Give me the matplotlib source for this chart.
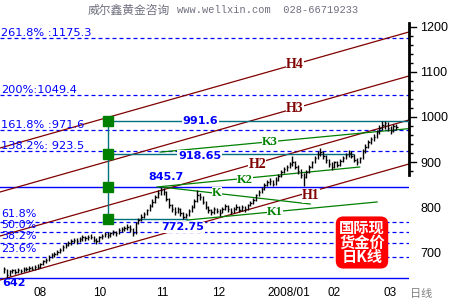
import matplotlib
matplotlib.use("Agg")
import matplotlib.pyplot as plt
from matplotlib.ticker import FixedLocator

# daily gold bars, Aug 2007 .. Mar 2008 (x = bar index)
closes = [662, 650, 658, 660, 657, 661, 659, 663, 662, 665, 664, 667, 668,
          673, 680, 683, 690, 694, 697, 700, 706, 712, 716, 721, 724,
          727, 725, 730, 733, 731, 735, 734, 728, 724, 733, 737, 740, 738, 742, 744, 743,
          749, 752, 754, 757, 752, 742, 764, 772, 779, 784,
          793, 803, 812, 822, 832, 838, 833, 818, 804, 797,
          790, 796, 786, 779, 783, 791, 801, 814, 826, 822,
          812, 800, 794, 789, 796, 792, 788, 797, 803, 795, 790, 797, 801, 794,
          800, 796, 804, 810, 816, 826, 834, 840, 849, 855, 858, 851,
          861, 870, 879, 884, 889, 896, 899, 890, 880, 871, 866,
          878, 889, 899, 909, 918, 922, 913, 904, 895, 890, 899, 894, 903,
          909, 915, 921, 914, 905, 899, 908, 924, 934, 944, 950,
          956, 966, 975, 981, 986, 975, 969, 980, 977]
highs = [668, 662, 661, 664, 663, 665, 664, 667, 667, 669, 669, 671, 673,
         677, 684, 687, 694, 698, 701, 705, 710, 716, 721, 725, 729,
         732, 731, 734, 738, 737, 739, 740, 736, 731, 736, 741, 744, 744, 746, 749, 748,
         753, 756, 759, 762, 760, 754, 767, 776, 784, 789,
         797, 807, 817, 827, 838, 845.7, 843, 836, 821, 808,
         801, 800, 798, 790, 788, 795, 805, 818, 837, 832,
         825, 814, 803, 797, 800, 799, 796, 801, 808, 805, 798, 801, 806, 803,
         804, 803, 808, 814, 820, 830, 838, 845, 853, 860, 864, 861,
         866, 874, 883, 889, 894, 901, 913, 903, 893, 884, 876,
         882, 893, 903, 913, 924, 932, 925, 916, 907, 899, 903, 902, 907,
         914, 920, 926, 924, 917, 908, 912, 928, 939, 949, 956,
         962, 972, 981, 991.6, 990, 989, 979, 984, 985]
lows = [655, 642, 647, 654, 652, 655, 654, 657, 658, 659, 660, 661, 663,
        666, 671, 677, 681, 687, 690, 693, 698, 704, 709, 713, 717,
        720, 719, 722, 726, 725, 728, 729, 722, 718, 723, 730, 733, 732, 735, 738, 737,
        741, 745, 748, 750, 746, 736, 741, 762, 770, 776,
        782, 791, 801, 810, 820, 828, 826, 813, 798, 790,
        783, 786, 780, 772.75, 775, 780, 789, 799, 812, 816,
        806, 795, 787, 782, 785, 786, 781, 786, 794, 790, 784, 788, 794, 789,
        791, 790, 794, 802, 807, 814, 824, 831, 838, 846, 850, 846,
        849, 858, 867, 875, 880, 886, 891, 885, 874, 864, 848,
        865, 876, 886, 897, 906, 913, 907, 897, 889, 883, 887, 888, 891,
        899, 906, 911, 908, 899, 893, 897, 906, 921, 931, 940,
        946, 953, 962, 970, 974, 968, 962, 967, 970]

month_pos = [12.9, 34, 56.4, 76.8, 101.8, 118, 137.9]
month_labels = ["08", "10", "11", "12", "2008/01", "02", "03"]

# fibonacci levels of the 642 -> 845.7 swing
retr_levels = [690.1, 719.8, 743.9, 767.9]
retr_labels = ["23.6%", "38.2%", "50.0%", "61.8%"]
ext_levels = [923.5, 971.6, 1049.4, 1175.3]
ext_labels = ["138.2%: 923.5", "161.8% :971.6", "200%:1049.4", "261.8% :1175.3"]
swing_low, swing_high = 642, 845.7

# projected swing targets (teal), start bar and end bar
target_levels = [991.6, 918.65, 772.75]
target_labels = ["991.6", "918.65", "772.75"]
target_end = [144.6, 124.6, 65.4]
target_start = 37

# parallel channel H1..H4 (price at left and right edge)
chan_names = ["H1", "H2", "H3", "H4"]
chan_left = [638.6, 736.1, 833.6, 931.1]
chan_right = [895.7, 993.2, 1090.7, 1188.2]

# fan lines K1, K2, K, K3
fan_names = ["K1", "K2", "K", "K3"]
fan_x0 = [65.4, 54.6, 55.7, 55.7]
fan_y0 = [771.5, 844.7, 845.0, 922.0]
fan_x1 = [133.2, 127.0, 109.3, 144.6]
fan_y1 = [811.5, 889.0, 807.0, 974.0]

BLUE = "#0000ff"
BROWN = "#800000"
GREEN = "#008000"
TEAL = "#00707f"
XMIN, XMAX = -1.43, 144.6

fig = plt.figure(figsize=(4.5, 3.0), dpi=100)
ax = fig.add_axes([0, 17 / 300, 409 / 450, 283 / 300])
ax.set_xlim(XMIN, XMAX)
ax.set_ylim(632, 1259)

dash = (0, (3.2, 2.4))
for lv in retr_levels + ext_levels:
    ax.axhline(lv, color=BLUE, lw=0.9, ls=dash, zorder=1)
for lv in (swing_low, swing_high):
    ax.axhline(lv, color=BLUE, lw=1.0, zorder=1)

for lv, lab in zip(ext_levels, ext_labels):
    ax.annotate(lab, (XMIN, lv), xytext=(1, 0), textcoords="offset points",
                va="bottom", ha="left", color=BLUE, fontsize=8.2)
for lv, lab in zip(retr_levels, retr_labels):
    ax.annotate(lab, (XMIN, lv), xytext=(1, 2), textcoords="offset points",
                va="bottom", ha="left", color=BLUE, fontsize=8)
ax.text(XMIN + 0.9, swing_low, "642", color=BLUE, fontsize=8, fontweight="bold",
        va="top", ha="left", clip_on=False)

# channel
for name, yl, yr in zip(chan_names, chan_left, chan_right):
    ax.plot([XMIN, XMAX], [yl, yr], color=BROWN, lw=0.9, zorder=2)
h_lab = {"H1": (109.6, 824.8), "H2": (90.4, 893.5), "H3": (103.9, 1019.7), "H4": (103.9, 1117)}
for name, (x, y) in h_lab.items():
    ax.text(x, y, name, color=BROWN, fontsize=10, fontweight="bold", family="Liberation Serif",
            ha="center", va="center", zorder=6,
            bbox=dict(fc="white", ec="none", pad=0.3))

# fan lines
for name, x0, y0, x1, y1 in zip(fan_names, fan_x0, fan_y0, fan_x1, fan_y1):
    ax.plot([x0, x1], [y0, y1], color=GREEN, lw=0.9, zorder=2)
k_lab = {"K1": (96.8, 789), "K2": (86, 860), "K": (76, 831), "K3": (95, 944)}
for name, (x, y) in k_lab.items():
    ax.text(x, y, name, color=GREEN, fontsize=9, fontweight="bold", family="Liberation Serif",
            ha="center", va="center", zorder=6,
            bbox=dict(fc="white", ec="none", pad=0.3))

# swing targets
for lv, x1 in zip(target_levels, target_end):
    ax.plot([target_start, x1], [lv, lv], color=TEAL, lw=1.0, zorder=3)
ax.plot([target_start, target_start], [min(target_levels), max(target_levels)],
        color=TEAL, lw=1.0, zorder=3)
sq_levels = target_levels + [swing_high]
ax.plot([target_start] * len(sq_levels), sq_levels, ls="none", marker="s",
        ms=7.5, color=GREEN, zorder=7)
lab_pos = {"991.6": (70, 991.6), "918.65": (69.8, 914), "772.75": (63.9, 755)}
for lab, (x, y) in lab_pos.items():
    ax.text(x, y, lab, color=BLUE, fontsize=8, fontweight="bold", ha="center", va="center",
            zorder=6, bbox=dict(fc="white", ec="none", pad=0.5))
ax.text(57.9, 865.8, "845.7", color=BLUE, fontsize=8, fontweight="bold",
        ha="center", va="center", zorder=6)

# price bars
idx = list(range(len(closes)))
ax.vlines(idx, lows, highs, color="black", lw=1.0, zorder=5)
ax.hlines(closes, idx, [i + 0.5 for i in idx], color="black", lw=1.0, zorder=5)

# axes styling
for s in ("top", "left", "bottom"):
    ax.spines[s].set_visible(False)
ax.spines["right"].set_linewidth(2)
ax.spines["right"].set_bounds(872, 1207)
ax.yaxis.tick_right()
ax.set_yticks([700, 800, 900, 1000, 1100, 1200])
ax.yaxis.set_minor_locator(FixedLocator(range(880, 1201, 20)))
ax.tick_params(axis="y", which="major", length=0, pad=8, labelsize=9)
ax.tick_params(axis="y", which="minor", length=3, width=1)
for lv in (900, 1000, 1100, 1200):
    ax.plot([1, 1.016], [lv, lv], color="black", lw=1, transform=ax.get_yaxis_transform(),
            clip_on=False)
ax.set_xticks(month_pos, month_labels)
ax.tick_params(axis="x", length=0, pad=3, labelsize=8.5)
for lab in ax.get_xticklabels() + ax.get_yticklabels():
    lab.set_family("Liberation Sans")

fig.text(88 / 450, 1 - 10 / 300, "威尔鑫黄金咨询", color="#707080", fontsize=8.5,
         family=["Noto Sans CJK SC", "DejaVu Sans"], va="center", ha="left")
fig.text(177 / 450, 1 - 10 / 300, "www.wellxin.com  028-66719233", color="#707080",
         fontsize=7.5, family="Liberation Mono", va="center", ha="left")
fig.text(410 / 450, 1 - 294 / 300, "日线", color="#808080", fontsize=8,
         family=["Noto Sans CJK SC", "DejaVu Sans"], va="center", ha="left")
fig.text(362 / 450, 1 - 242.5 / 300, "国际现\n货金价\n日K线", color="white", fontsize=11,
         fontweight="bold", family=["Noto Sans CJK SC", "DejaVu Sans"], ha="center",
         va="center", linespacing=0.9,
         bbox=dict(boxstyle="round,pad=0.22,rounding_size=0.5", fc="#ff0000", ec="none"))

fig.savefig("out.png", dpi=100, facecolor="white")
